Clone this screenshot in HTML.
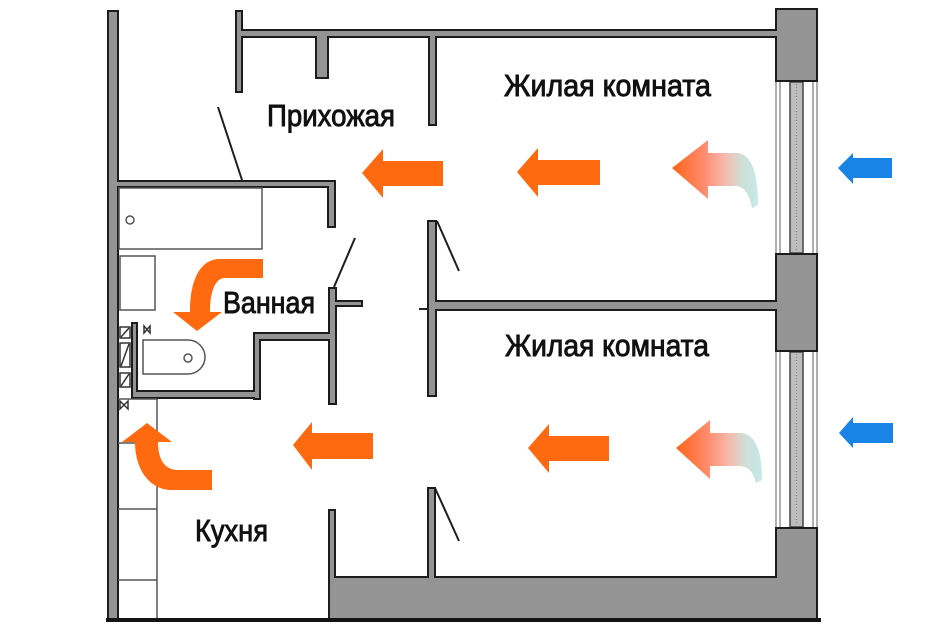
<!DOCTYPE html>
<html>
<head>
<meta charset="utf-8">
<style>
html,body{margin:0;padding:0;background:#fff;}
svg{display:block;}
text{font-family:"Liberation Sans","Noto Sans CJK SC",sans-serif;}
</style>
</head>
<body>
<svg width="950" height="625" viewBox="0 0 950 625" xmlns="http://www.w3.org/2000/svg">
<defs>
  <linearGradient id="g1" x1="672" y1="0" x2="760" y2="0" gradientUnits="userSpaceOnUse">
    <stop offset="0" stop-color="#ff6418"/>
    <stop offset="0.35" stop-color="#ff8a6a"/>
    <stop offset="0.6" stop-color="#f7b9ad"/>
    <stop offset="0.8" stop-color="#cfe0d8"/>
    <stop offset="1" stop-color="#a6dcdc" stop-opacity="0.6"/>
  </linearGradient>
</defs>
<rect width="950" height="625" fill="#fff"/>

<!-- window frames -->
<g stroke="#7a7a7a" stroke-width="1.2" fill="none">
  <line x1="776" y1="82" x2="776" y2="253"/>
  <line x1="780" y1="82" x2="780" y2="253"/>
  <line x1="813" y1="82" x2="813" y2="253"/>
  <line x1="817" y1="82" x2="817" y2="253"/>
  <line x1="776" y1="352" x2="776" y2="527"/>
  <line x1="780" y1="352" x2="780" y2="527"/>
  <line x1="813" y1="352" x2="813" y2="527"/>
  <line x1="817" y1="352" x2="817" y2="527"/>
</g>
<g stroke="#444" stroke-width="1.5" fill="#bdbdbd">
  <rect x="790" y="82" width="13" height="171"/>
  <rect x="790" y="352" width="13" height="175"/>
</g>
<g stroke="#8a8a8a" stroke-width="1.2" stroke-dasharray="1 2">
  <line x1="796.5" y1="84" x2="796.5" y2="251"/>
  <line x1="796.5" y1="354" x2="796.5" y2="525"/>
</g>

<!-- walls: dark outline pass -->
<g fill="#949494" stroke="#1c1c1c" stroke-width="4">
  <rect x="109" y="12" width="8" height="608"/>
  <rect x="237" y="12" width="4" height="79"/>
  <rect x="237" y="31" width="540" height="5"/>
  <rect x="317" y="36" width="10" height="41"/>
  <rect x="430" y="31" width="5" height="93"/>
  <rect x="109" y="182" width="225" height="4"/>
  <rect x="329" y="182" width="5" height="44"/>
  <rect x="330" y="289" width="5" height="114"/>
  <rect x="335" y="302" width="26" height="3"/>
  <rect x="255" y="334" width="80" height="5"/>
  <rect x="255" y="334" width="4" height="64"/>
  <rect x="133" y="392" width="126" height="5"/>
  <rect x="133" y="324" width="3" height="73"/>
  <rect x="330" y="511" width="4" height="80"/>
  <rect x="330" y="578" width="486" height="40"/>
  <rect x="429" y="489" width="5" height="89"/>
  <rect x="429" y="222" width="6" height="173"/>
  <rect x="429" y="302" width="347" height="7"/>
  <rect x="777" y="10" width="39" height="70"/>
  <rect x="777" y="255" width="39" height="95"/>
  <rect x="777" y="529" width="39" height="89"/>
</g>
<!-- walls: fill pass to merge junctions -->
<g fill="#949494">
  <rect x="109" y="12" width="8" height="606"/>
  <rect x="237" y="12" width="4" height="79"/>
  <rect x="237" y="31" width="540" height="5"/>
  <rect x="317" y="36" width="10" height="41"/>
  <rect x="430" y="31" width="5" height="93"/>
  <rect x="109" y="182" width="225" height="4"/>
  <rect x="329" y="182" width="5" height="44"/>
  <rect x="330" y="289" width="5" height="114"/>
  <rect x="335" y="302" width="26" height="3"/>
  <rect x="255" y="334" width="80" height="5"/>
  <rect x="255" y="334" width="4" height="64"/>
  <rect x="133" y="392" width="126" height="5"/>
  <rect x="133" y="324" width="3" height="73"/>
  <rect x="330" y="511" width="4" height="80"/>
  <rect x="330" y="578" width="486" height="40"/>
  <rect x="429" y="489" width="5" height="89"/>
  <rect x="429" y="222" width="6" height="173"/>
  <rect x="429" y="302" width="347" height="7"/>
  <rect x="777" y="10" width="39" height="70"/>
  <rect x="777" y="255" width="39" height="95"/>
  <rect x="777" y="529" width="39" height="89"/>
  <rect x="774" y="31" width="5" height="5"/>
  <rect x="774" y="302" width="5" height="7"/>
  <rect x="774" y="578" width="5" height="40"/>
</g>
<!-- bottom line -->
<rect x="106" y="618" width="715" height="4" fill="#141414"/>
<!-- tick -->
<line x1="419" y1="309" x2="429" y2="309" stroke="#222" stroke-width="2"/>

<!-- door swings -->
<g stroke="#1e1e1e" stroke-width="2" fill="none">
  <line x1="218" y1="107" x2="242" y2="180"/>
  <line x1="355" y1="238" x2="334" y2="287"/>
  <line x1="437" y1="221" x2="459" y2="271"/>
  <line x1="435" y1="488" x2="459" y2="541"/>
</g>

<!-- fixtures -->
<g stroke="#555" stroke-width="1.5" fill="none">
  <rect x="119" y="188" width="143" height="61"/>
  <circle cx="130" cy="220" r="4"/>
  <rect x="120" y="256" width="35" height="54"/>
  <path d="M143,340 L188,340 A17,17 0 0 1 188,374 L143,374 Z"/>
  <circle cx="188" cy="358" r="4"/>
  <line x1="157" y1="399" x2="157" y2="618"/>
  <line x1="118" y1="399" x2="157" y2="399"/>
  <line x1="118" y1="443" x2="157" y2="443"/>
  <line x1="118" y1="509" x2="157" y2="509"/>
  <line x1="118" y1="580" x2="157" y2="580"/>
</g>
<g stroke="#333" stroke-width="1.5" fill="#fff">
  <rect x="120" y="327" width="10" height="11"/>
  <rect x="120" y="343" width="10" height="24"/>
  <rect x="120" y="373" width="10" height="14"/>
  <line x1="121" y1="366" x2="129" y2="344"/>
  <line x1="121" y1="337" x2="129" y2="328"/>
  <line x1="121" y1="386" x2="129" y2="374"/>
  <path d="M120,401 L128,409 L128,401 L120,409 Z" fill="none"/>
  <path d="M144,326 L150,333 L150,326 L144,333 Z" fill="none"/>
</g>

<!-- orange straight arrows -->
<g fill="#ff6a10">
  <path d="M362,173 L383,149 L383,161 L443,161 L443,186 L383,186 L383,198 Z"/>
  <path d="M517,172 L538,148 L538,160 L600,160 L600,185 L538,185 L538,197 Z"/>
  <path d="M528,448 L549,424 L549,436 L609,436 L609,461 L549,461 L549,473 Z"/>
  <path d="M293,445 L312,422 L312,433 L373,433 L373,459 L312,459 L312,470 Z"/>
  <!-- kitchen curved -->
  <path d="M147,423 L122,442 L135,442 C135,470 150,490 172,490 L212,490 L212,470 L178,470 C165,470 158,460 158,442 L172,442 Z"/>
  <!-- bathroom curved -->
  <path d="M263,259 L220,259 C200,259 190,280 190,312 L173,312 L197,331 L222,312 L210,312 C210,292 215,278 225,278 L263,278 Z"/>
</g>

<!-- gradient curved arrows -->
<path d="M672,168 L708,140 L708,153 L738,153 Q758,156 758,205 L752,208 Q748,186 735,186 L708,186 L708,199 Z" fill="url(#g1)"/>
<g transform="translate(4,280)">
  <path d="M672,168 L706,140 L706,153 L738,153 Q758,156 758,200 L752,203 Q748,186 735,186 L706,186 L706,199 Z" fill="url(#g1)"/>
</g>

<!-- blue arrows -->
<g fill="#1a84e6">
  <path d="M838,168 L853,153 L853,158 L892,158 L892,178 L853,178 L853,184 Z"/>
  <path d="M839,433 L853,417 L853,423 L893,423 L893,443 L853,443 L853,448 Z"/>
</g>

<!-- labels -->
<g fill="#111" stroke="#111" stroke-width="0.9" font-size="31">
  <text x="267" y="126" textLength="128" lengthAdjust="spacingAndGlyphs">Прихожая</text>
  <text x="504" y="96" textLength="207" lengthAdjust="spacingAndGlyphs">Жилая комната</text>
  <text x="223" y="313" textLength="92" lengthAdjust="spacingAndGlyphs">Ванная</text>
  <text x="505" y="356" textLength="204" lengthAdjust="spacingAndGlyphs">Жилая комната</text>
  <text x="195" y="541" textLength="73" lengthAdjust="spacingAndGlyphs">Кухня</text>
</g>
</svg>
</body>
</html>
